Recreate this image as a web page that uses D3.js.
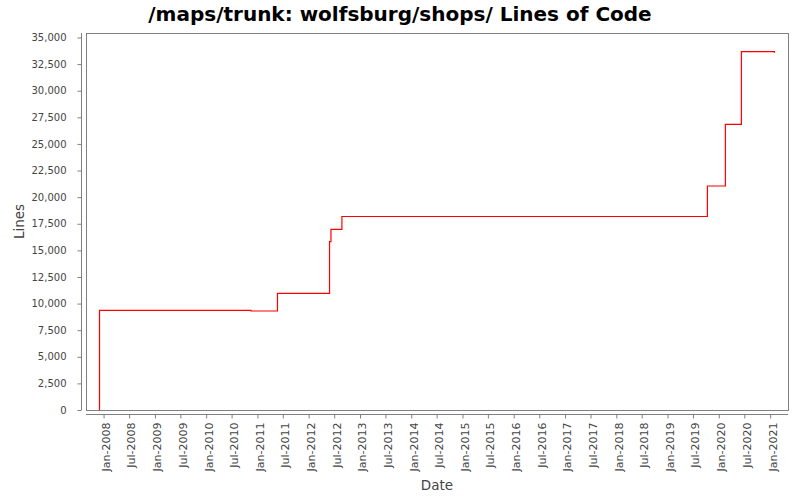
<!DOCTYPE html>
<html>
<head>
<meta charset="utf-8">
<script src="https://cdn.jsdelivr.net/npm/d3@7"></script>
<style>
  body { margin: 0; background: #fff; }
  svg { display: block; font-family: "DejaVu Sans", sans-serif; }
</style>
</head>
<body>
<div id="chart"></div>
<script>
// Lines of code over time (step chart)
const dates = [
    "2007-12-03", "2007-12-03", "2010-11-16", "2011-05-24", "2012-05-29",
    "2012-06-08", "2012-08-25", "2019-10-12", "2020-02-17", "2020-06-10", "2021-02-01"
];
const lines = [0, 9370, 9300, 10965, 15813, 16978, 18181, 21047, 26844, 33665, 33571];
const yTicks = [0, 2500, 5000, 7500, 10000, 12500, 15000, 17500, 20000, 22500, 25000, 27500, 30000, 32500, 35000];

const width = 800, height = 500;
const plot = { left: 86, top: 33, right: 788, bottom: 410 };

const parse = d3.timeParse('%Y-%m-%d');
const data = dates.map((d, i) => ({ date: parse(d), value: lines[i] }));

const svg = d3.select('#chart')
    .append('svg')
    .attr('width', width)
    .attr('height', height);

// x domain has a 2% margin on each side of the data
const ext = d3.extent(data, d => d.date);
const span = ext[1] - ext[0];
const x = d3.scaleTime()
    .domain([new Date(+ext[0] - span * 0.02), new Date(+ext[1] + span * 0.02)])
    .range([plot.left, plot.right]);

const y = d3.scaleLinear()
    .domain([0, 35000])
    .range([plot.bottom, 37.5]);

// title
svg.append('text')
    .attr('x', 400)
    .attr('y', 21)
    .attr('text-anchor', 'middle')
    .style('font-size', '20px')
    .style('font-weight', 'bold')
    .style('fill', '#000')
    .text('/maps/trunk: wolfsburg/shops/ Lines of Code');

// plot outline
svg.append('rect')
    .attr('x', plot.left + 0.5)
    .attr('y', plot.top + 0.5)
    .attr('width', plot.right - plot.left)
    .attr('height', plot.bottom - plot.top)
    .attr('fill', 'none')
    .attr('stroke', '#808080')
    .attr('stroke-width', 1);

// y axis
const yAxis = svg.append('g')
    .attr('transform', `translate(${plot.left - 4.5},0)`)
    .call(d3.axisLeft(y).tickValues(yTicks).tickSize(4).tickPadding(11)
        .tickFormat(d3.format(',')));
yAxis.select('.domain')
    .attr('d', `M0,${plot.top}V${plot.bottom}`)
    .attr('stroke', '#808080');
yAxis.selectAll('.tick line').attr('stroke', '#808080');
yAxis.selectAll('.tick text')
    .style('font-size', '10px')
    .style('font-family', '"DejaVu Sans", sans-serif')
    .attr('fill', '#444');

// x axis: ticks every six months
const xTicks = d3.timeMonth.every(6).range(x.domain()[0], x.domain()[1]);
const xAxis = svg.append('g')
    .attr('transform', `translate(0,${plot.bottom + 4.5})`)
    .call(d3.axisBottom(x).tickValues(xTicks).tickSize(4)
        .tickFormat(d3.timeFormat('%b-%Y')));
xAxis.select('.domain')
    .attr('d', `M${plot.left},0H${plot.right}`)
    .attr('stroke', '#808080');
xAxis.selectAll('.tick line').attr('stroke', '#808080');
xAxis.selectAll('.tick text')
    .style('font-size', '11px')
    .style('font-family', '"DejaVu Sans", sans-serif')
    .attr('fill', '#444')
    .attr('text-anchor', 'end')
    .attr('transform', 'rotate(-90)')
    .attr('x', -8)
    .attr('y', 2)
    .attr('dy', '0.35em');

// axis labels
svg.append('text')
    .attr('x', (plot.left + plot.right) / 2)
    .attr('y', 490)
    .attr('text-anchor', 'middle')
    .style('font-size', '13.5px')
    .style('fill', '#444')
    .text('Date');

svg.append('text')
    .attr('transform', `translate(24,${(plot.top + plot.bottom) / 2}) rotate(-90)`)
    .attr('text-anchor', 'middle')
    .style('font-size', '13.5px')
    .style('fill', '#444')
    .text('Lines');

// step line
const line = d3.line()
    .x(d => x(d.date))
    .y(d => y(d.value))
    .curve(d3.curveStepAfter);

svg.append('path')
    .datum(data)
    .attr('d', line)
    .attr('fill', 'none')
    .attr('stroke', '#ff0000')
    .attr('stroke-width', 1.2);
</script>
</body>
</html>
